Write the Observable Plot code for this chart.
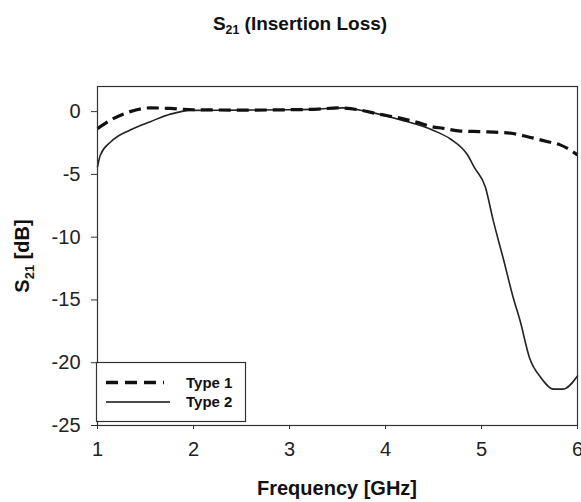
<!DOCTYPE html>
<html>
<head>
<meta charset="utf-8">
<script src="https://cdn.jsdelivr.net/npm/d3@7"></script>
<script src="https://cdn.jsdelivr.net/npm/@observablehq/plot@0.6"></script>
<style>
  html, body { margin: 0; padding: 0; background: #fff; }
  #title { width: 581px; height: 40px; box-sizing: border-box; padding-top: 13px; padding-left: 19px;
           text-align: center; font: bold 19px "Liberation Sans", Arial, sans-serif; line-height: 22px; color: #111; }
  #title sub { font-size: 0.65em; vertical-align: -0.3em; line-height: 0; }
</style>
</head>
<body>
<div id="title">S<sub>21</sub> (Insertion Loss)</div>
<div id="chart"></div>
<script>
const seriesNames = ["Type 1", "Type 2"];

const freq1 = [1.0, 1.14, 1.34, 1.55, 1.76, 2.0, 2.5, 3.0, 3.3, 3.5, 3.73, 3.93, 4.14, 4.35, 4.48, 4.6, 4.78, 5.0, 5.3, 5.48, 5.69, 5.82, 6.0];
const s21type1 = [-1.35, -0.66, 0.0, 0.3, 0.25, 0.15, 0.12, 0.15, 0.2, 0.3, 0.13, -0.2, -0.5, -0.9, -1.2, -1.33, -1.55, -1.6, -1.72, -2.0, -2.4, -2.65, -3.45];

const freq2 = [1.0, 1.03, 1.14, 1.34, 1.55, 1.76, 1.97, 2.5, 3.0, 3.3, 3.56, 3.81, 4.16, 4.5, 4.68, 4.85, 4.93, 5.04, 5.12, 5.23, 5.33, 5.4, 5.5, 5.62, 5.75, 5.85, 6.0];
const s21type2 = [-4.4, -3.45, -2.4, -1.46, -0.8, -0.2, 0.1, 0.12, 0.15, 0.2, 0.3, 0.0, -0.66, -1.5, -2.2, -3.4, -4.5, -6.0, -8.6, -11.8, -14.8, -16.6, -19.6, -21.2, -22.1, -22.1, -21.05];

const xTicks = [1, 2, 3, 4, 5, 6];
const yTicks = [0, -5, -10, -15, -20, -25];

const xLabel = "Frequency [GHz]";
const yLabelMain = "S";
const yLabelSub = "21";
const yLabelRest = " [dB]";

const data1 = freq1.map((f, i) => ({f, v: s21type1[i]}));
const data2 = freq2.map((f, i) => ({f, v: s21type2[i]}));

const font = "'Liberation Sans', Arial, sans-serif";
const fmt = d => String(d);

const plot = Plot.plot({
  width: 581,
  height: 462,
  marginTop: 46,
  marginBottom: 77,
  marginLeft: 97,
  marginRight: 4,
  style: {fontFamily: font, fontSize: "20px", color: "#222", background: "#fff", overflow: "visible"},
  x: {domain: [1, 6], ticks: xTicks, label: null},
  y: {domain: [-25, 2], ticks: yTicks, label: null},
  marks: [
    Plot.axisX({ticks: xTicks, tickSize: 4, tickPadding: 12, label: null, fontSize: 20, stroke: "#333", tickFormat: fmt}),
    Plot.axisY({ticks: yTicks, tickSize: 6, tickPadding: 11, label: null, fontSize: 20, stroke: "#333", tickFormat: fmt}),
    Plot.line(data2, {x: "f", y: "v", stroke: "#222", strokeWidth: 1.6, curve: "monotone-x"}),
    Plot.line(data1, {x: "f", y: "v", stroke: "#111", strokeWidth: 3.2, strokeDasharray: "12,6", strokeLinecap: "butt", curve: "monotone-x"}),
    Plot.frame({stroke: "#333", strokeWidth: 1.2})
  ]
});

document.getElementById("chart").appendChild(plot);

const svg = d3.select(plot);

// y axis label with subscript
const yl = svg.append("text")
  .attr("transform", "translate(29,216) rotate(-90)")
  .attr("text-anchor", "middle")
  .attr("font-family", font)
  .attr("font-weight", "bold")
  .attr("font-size", 20)
  .attr("fill", "#111");
yl.append("tspan").text(yLabelMain);
yl.append("tspan").attr("font-size", 13).attr("dy", 5).text(yLabelSub);
yl.append("tspan").attr("dy", -5).text(yLabelRest);

// x axis label
svg.append("text")
  .attr("x", 337).attr("y", 455)
  .attr("text-anchor", "middle")
  .attr("font-family", font)
  .attr("font-weight", "bold")
  .attr("font-size", 20)
  .attr("fill", "#111")
  .text(xLabel);

// legend box
const lg = svg.append("g");
lg.append("rect")
  .attr("x", 96.5).attr("y", 322.5).attr("width", 149).attr("height", 59)
  .attr("fill", "#fff").attr("stroke", "#333").attr("stroke-width", 1.2);
const styles = [
  {dash: "12,7", width: 3.5, x2: 164},
  {dash: null, width: 1.6, x2: 170}
];
seriesNames.forEach((name, i) => {
  const y = 342.5 + i * 19.5;
  const ln = lg.append("line")
    .attr("x1", 106).attr("x2", styles[i].x2).attr("y1", y).attr("y2", y)
    .attr("stroke", "#111").attr("stroke-width", styles[i].width);
  if (styles[i].dash) ln.attr("stroke-dasharray", styles[i].dash);
  lg.append("text")
    .attr("x", 186).attr("y", y + 5)
    .attr("text-anchor", "start")
    .attr("font-family", font).attr("font-weight", "bold").attr("font-size", 15)
    .attr("fill", "#111")
    .text(name);
});
</script>
</body>
</html>
